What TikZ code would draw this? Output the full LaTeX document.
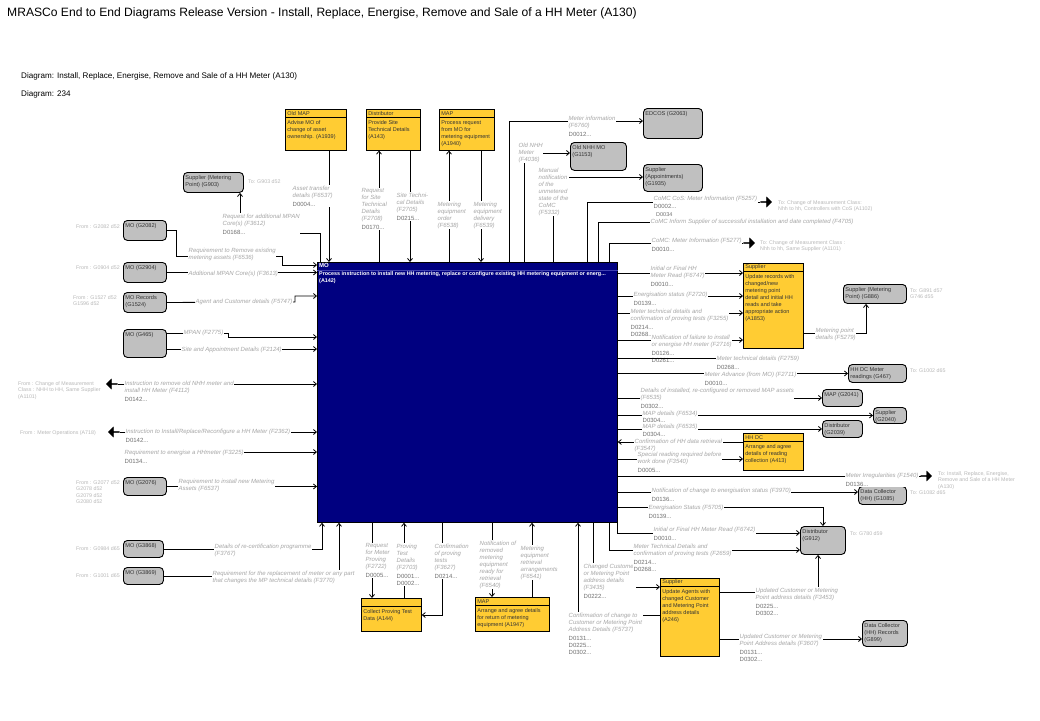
\documentclass[tikz,border=0pt]{standalone}
\usepackage{fontspec}
\setmainfont{Liberation Sans}
\usepackage{tikz}
\usetikzlibrary{arrows.meta, positioning, shapes.arrows}
\definecolor{mofill}{HTML}{000080}
\definecolor{mosep}{HTML}{4040B0}
\definecolor{actfill}{HTML}{FFCC33}
\definecolor{extfill}{HTML}{C0C0C0}
\definecolor{boxtext}{HTML}{333333}
\definecolor{lblgray}{HTML}{A6A6A6}
\definecolor{refgray}{HTML}{707070}
\definecolor{offgray}{HTML}{B8B8B8}
\newcommand{\dno}[1]{{\upshape\color{refgray}#1...}}
\newcommand{\inbox}[3]{\parbox[t][#2][t]{#1}{\raggedright #3}}
\tikzset{
  extbox/.style = {rectangle, rounded corners=4pt, draw=black, fill=extfill,
                   line width=0.9pt, anchor=north west, inner xsep=2pt, inner ysep=3pt,
                   font=\fontsize{5.6}{7}\selectfont, text=boxtext},
  acthead/.style= {rectangle, draw=black, fill=actfill, line width=0.8pt,
                   anchor=north west, inner xsep=2pt, inner ysep=0pt,
                   minimum height=7.5pt, align=left,
                   font=\fontsize{5.5}{6}\selectfont, text=boxtext},
  actbody/.style= {rectangle, draw=black, fill=actfill, line width=0.8pt,
                   inner xsep=2pt, inner ysep=3pt,
                   font=\fontsize{5.5}{7}\selectfont, text=boxtext},
  mobox/.style  = {rectangle, draw=black, fill=mofill, line width=0.8pt,
                   anchor=north west, minimum width=300pt, minimum height=260pt,
                   inner sep=0pt},
  mohead/.style = {anchor=north west, inner xsep=2pt, inner ysep=1pt,
                   font=\fontsize{6}{7}\selectfont\bfseries, text=white},
  motext/.style = {anchor=north west, inner xsep=2pt, inner ysep=1pt, align=left,
                   font=\fontsize{5.4}{7}\selectfont\bfseries, text=white},
  lbl/.style    = {anchor=north west, inner sep=0.5pt, fill=white, align=left,
                   font=\fontsize{6}{7}\selectfont\itshape, text=lblgray},
  offtxt/.style = {anchor=north west, inner sep=0pt, align=left,
                   font=\fontsize{5.3}{6.5}\selectfont, text=offgray},
  offarr/.style = {single arrow, fill=black, draw=black, minimum height=11pt,
                   minimum width=10pt, single arrow head extend=2.5pt, inner sep=0pt},
  flow/.style   = {-{Straight Barb[length=3pt, width=5pt]}, line width=0.8pt},
  link/.style   = {line width=0.8pt},
}

\begin{document}
\begin{tikzpicture}[x=1pt, y=-1pt]
	\fill[white] (0,0) rectangle (1040,720);
	\useasboundingbox (0,0) rectangle (1040,720);

	\node[anchor=west, inner sep=0pt, font=\fontsize{12.1}{14}\selectfont]
	(title) at (7,13)
	{MRASCo End to End Diagrams Release Version - Install, Replace, Energise, Remove and Sale of a HH Meter (A130)};
	\node[anchor=west, inner sep=0pt, font=\fontsize{8.1}{9}\selectfont]
	(dgname) at (21,76)
	{Diagram: Install, Replace, Energise, Remove and Sale of a HH Meter (A130)};
	\node[anchor=west, inner sep=0pt, font=\fontsize{8.1}{9}\selectfont]
	(dgnum) at (21,94) {Diagram: 234};

	\node[mobox] (mo) at (317,262) {};
	\draw[mosep] ([yshift=-8.5pt]mo.north west) -- ([yshift=-8.5pt]mo.north east);
	\node[mohead] (moh) at (mo.north west) {MO};
	\node[motext] (mot) at ([yshift=-8.5pt]mo.north west)
	{Process instruction to install new HH metering, replace or configure existing HH metering equipment or energ...\\(A142)};

	\node[acthead, text width=57pt] (a1939h) at (285,109) {Old MAP};
	\node[actbody, below=0pt of a1939h] (a1939)
	{\inbox{57pt}{26.5pt}{Advise MO of\\change of asset\\ownership. (A1939)}};
	\node[acthead, text width=50pt] (a143h) at (366,109) {Distributor};
	\node[actbody, below=0pt of a143h] (a143)
	{\inbox{50pt}{26.5pt}{Provide Site\\Technical Details\\(A143)}};
	\node[acthead, text width=51pt] (a1940h) at (439,109) {MAP};
	\node[actbody, below=0pt of a1940h] (a1940)
	{\inbox{51pt}{26.5pt}{Process request\\from MO for\\metering equipment\\(A1940)}};
	\node[acthead, text width=56pt] (a1853h) at (743,263) {Supplier};
	\node[actbody, below=0pt of a1853h] (a1853)
	{\inbox{56pt}{70.5pt}{Update records with\\changed/new\\metering point\\detail and initial HH\\reads and take\\appropriate action\\(A1853)}};
	\node[acthead, text width=56pt] (a413h) at (743,433) {HH DC};
	\node[actbody, below=0pt of a413h] (a413)
	{\inbox{56pt}{22.5pt}{Arrange and agree\\details of reading\\collection (A413)}};
	\node[acthead, text width=56pt] (a144h) at (361,598) {};
	\node[actbody, below=0pt of a144h] (a144)
	{\inbox{56pt}{18.5pt}{Collect Proving Test\\Data (A144)}};
	\node[acthead, text width=70pt] (a1947h) at (475,597) {MAP};
	\node[actbody, below=0pt of a1947h] (a1947)
	{\inbox{70pt}{19.5pt}{Arrange and agree details\\for return of metering\\equipment (A1947)}};
	\node[acthead, text width=55pt] (a246h) at (660,578) {Supplier};
	\node[actbody, below=0pt of a246h] (a246)
	{\inbox{55pt}{63.5pt}{Update Agents with\\changed Customer\\and Metering Point\\address details\\(A246)}};

	\node[extbox] (g2063) at (643,108) {\inbox{55pt}{24pt}{EDCOS (G2063)}};
	\node[extbox] (g1153) at (570,142) {\inbox{52pt}{22pt}{Old NHH MO\\(G1153)}};
	\node[extbox] (g1935) at (643,164) {\inbox{55pt}{21pt}{Supplier\\(Appointments)\\(G1935)}};
	\node[extbox] (g903) at (183,172) {\inbox{56pt}{14pt}{Supplier (Metering\\Point) (G903)}};
	\node[extbox] (g2082) at (123,220) {\inbox{39pt}{14pt}{MO (G2082)}};
	\node[extbox] (g2904) at (123,262) {\inbox{39pt}{14pt}{MO (G2904)}};
	\node[extbox] (g1524) at (123,292) {\inbox{39pt}{14pt}{MO Records\\(G1524)}};
	\node[extbox] (g465) at (123,329) {\inbox{39pt}{22pt}{MO (G465)}};
	\node[extbox] (g2076) at (123,477) {\inbox{39pt}{12pt}{MO (G2076)}};
	\node[extbox] (g3868) at (123,540) {\inbox{36pt}{11pt}{MO (G3868)}};
	\node[extbox] (g3869) at (123,567) {\inbox{36pt}{11pt}{MO (G3869)}};
	\node[extbox] (g886) at (843,284) {\inbox{59pt}{13pt}{Supplier (Metering\\Point) (G886)}};
	\node[extbox] (g467) at (848,364) {\inbox{54pt}{12pt}{HH DC Meter\\readings (G467)}};
	\node[extbox] (g2041) at (822,389) {\inbox{36pt}{11pt}{MAP (G2041)}};
	\node[extbox] (g2040) at (873,407) {\inbox{29pt}{10pt}{Supplier\\(G2040)}};
	\node[extbox] (g2039) at (822,420) {\inbox{36pt}{11pt}{Distributor\\(G2039)}};
	\node[extbox] (g1085) at (858,486) {\inbox{44pt}{12pt}{Data Collector\\(HH) (G1085)}};
	\node[extbox] (g912) at (800,526) {\inbox{41pt}{22pt}{Distributor\\(G912)}};
	\node[extbox] (g899) at (862,620) {\inbox{41pt}{20pt}{Data Collector\\(HH) Records\\(G899)}};

	\node[offarr] (arr5257) at (766,202) {};
	\node[offarr] (arr5277) at (749,243) {};
	\node[offarr] (arr1540) at (926,476) {};
	\node[offarr, shape border rotate=180] (arr4112) at (112,384) {};
	\node[offarr, shape border rotate=180] (arr2362) at (114,432) {};
	\coordinate (c4705) at (650,222);
	\coordinate (c2759) at (716,358);
	\coordinate (c3225) at (124,452);

	\draw[flow] (a1939.south -| 329,0) -- (mo.north -| 329,0);
	\draw[flow] (mo.north -| 379,0) -- (a143.south -| 379,0);
	\draw[flow] (a143.south -| 410,0) -- (mo.north -| 410,0);
	\draw[flow] (mo.north -| 449,0) -- (a1940.south -| 449,0);
	\draw[flow] (a1940.south -| 481,0) -- (mo.north -| 481,0);
	\draw[flow] (mo.north -| 509,0) |- (g2063.west |- 0,121);
	\draw[flow] (mo.north -| 524,0) |- (g1153.west |- 0,153);
	\draw[flow] (mo.north -| 553,0) |- (g1935.west |- 0,177);
	\draw[link] (mo.north -| 587,0) |- (arr5257.west);
	\draw[link] (mo.north -| 598,0) |- (c4705);
	\draw[link] (mo.north -| 609,0) |- (arr5277.west);
	\draw[flow] (mo.north -| 320,0) -- (320,233) -| (g903.south -| 240,0);

	\draw[flow] (g2082.east) -| (176,256) -- (282,256) |- (mo.west |- 0,265);
	\draw[flow] (g2904.east) -- (mo.west |- g2904.east);
	\draw[flow] (g1524.east) -- (295,302) |- (mo.west |- 0,296);
	\draw[flow] (g465.east |- 0,333) -- (228,333) |- (mo.west |- 0,337);
	\draw[flow] (g465.east |- 0,349) -- (mo.west |- 0,349);
	\draw[flow] (arr4112.east) -- (mo.west |- arr4112.east);
	\draw[flow] (arr2362.east) -- (mo.west |- arr2362.east);
	\draw[flow] (c3225) -- (mo.west |- c3225);
	\draw[flow] (g2076.east) -- (mo.west |- g2076.east);
	\draw[flow] (g3868.east) -| (mo.south -| 322,0);
	\draw[flow] (g3869.east) -| (mo.south -| 339,0);

	\draw[flow] (mo.south -| 372,0) -- (a144h.north -| 372,0);
	\draw[flow] (a144h.north -| 404,0) -- (mo.south -| 404,0);
	\draw[flow] (mo.south -| 442,0) |- (a144.east |- 0,615);
	\draw[flow] (mo.south -| 492,0) -- (a1947h.north -| 492,0);
	\draw[flow] (a1947h.north -| 532,0) -- (mo.south -| 532,0);
	\draw[flow] (a246.west |- 0,615) -| (mo.south -| 578,0);
	\draw[flow] (mo.south -| 593,0) |- (a246.west |- 0,587);
	\draw[flow] (mo.south -| 609,0) |- (g912.west |- 0,550);
	\draw[flow] (mo.south east) |- (g912.west |- 0,533);

	\draw[flow] (mo.east |- 0,273) -- (a1853.west |- 0,273);
	\draw[flow] (mo.east |- 0,296) -- (a1853.west |- 0,296);
	\draw[flow] (mo.east |- 0,313) -- (a1853.west |- 0,313);
	\draw[flow] (mo.east |- 0,340) -- (a1853.west |- 0,340);
	\draw[flow] (a1853.east |- 0,333) -| (g886.south -| 866,0);
	\draw[flow] (mo.east |- g467.west) -- (g467.west);
	\draw[flow] (mo.east |- g2041.west) -- (g2041.west);
	\draw[flow] (mo.east |- g2040.west) -- (g2040.west);
	\draw[flow] (mo.east |- g2039.west) -- (g2039.west);
	\draw[flow] (a413.west |- 0,442) -- (mo.east |- 0,442);
	\draw[flow] (mo.east |- 0,459) -- (a413.west |- 0,459);
	\draw[link] (mo.east |- arr1540.west) -- (arr1540.west);
	\draw[flow] (mo.east |- 0,492) -- (g1085.west |- 0,492);
	\draw[flow] (mo.east |- 0,507) -| (g912.north);
	\draw[flow] (a246.east |- 0,592) -| (g912.south -| 818,0);
	\draw[flow] (a246.east |- 0,639) -- (g899.west |- 0,639);

	\node[lbl] (lf6537) at (292,185) {Asset transfer\\details (F6537)\\[2pt]\dno{D0004}};
	\node[lbl] (lf2708) at (361,188) {Request\\for Site\\Technical\\Details\\(F2708)\\[2pt]\dno{D0170}};
	\node[lbl] (lf2705) at (396,192) {Site Techni-\\cal Details\\(F2705)\\[2pt]\dno{D0215}};
	\node[lbl] (lf6538) at (437,201) {Metering\\equipment\\order\\(F6538)};
	\node[lbl] (lf6539) at (473,201) {Metering\\equipment\\delivery\\(F6539)};
	\node[lbl] (lf6760) at (568,115) {Meter information\\(F6760)\\[2pt]\dno{D0012}};
	\node[lbl] (lf4036) at (518,142) {Old NHH\\Meter\\(F4036)};
	\node[lbl] (lf5332) at (538,167) {Manual\\notification\\of the\\unmetered\\state of the\\CoMC\\(F5332)};
	\node[lbl] (lf5257) at (653,195) {CoMC CoS: Meter Information (F5257)\\[1pt]\dno{D0002}};
	\node[lbl] (lf4705) at (650,218.5) {CoMC Inform Supplier of successful installation and date completed (F4705)};
	\node[anchor=north west, inner sep=0pt, font=\fontsize{5.5}{6}\selectfont, text=refgray]
	(d4705) at (656,212.5) {D0034};
	\node[lbl] (lf5277) at (651,237) {CoMC: Meter Information (F5277)\\[2pt]\dno{D0010}};

	\node[lbl] (lf3612) at (222,213) {Request for additional MPAN\\Core(s) (F3612)\\[2pt]\dno{D0168}};
	\node[lbl] (lf6536) at (188,247) {Requirement to Remove existing\\metering assets (F6536)};
	\node[lbl] (lf3613) at (188,270) {Additional MPAN Core(s) (F3613)};
	\node[lbl] (lf5747) at (195,298) {Agent and Customer details (F5747)};
	\node[lbl] (lf2775) at (183,329) {MPAN (F2775)};
	\node[lbl] (lf2124) at (181,346) {Site and Appointment Details (F2124)};
	\node[lbl] (lf4112) at (124,380) {Instruction to remove old NHH meter and\\install HH Meter (F4112)\\[2pt]\dno{D0142}};
	\node[lbl] (lf2362) at (125,428) {Instruction to Install/Replace/Reconfigure a HH Meter (F2362)\\[2pt]\dno{D0142}};
	\node[lbl] (lf3225) at (124,449) {Requirement to energise a HHmeter (F3225)\\[2pt]\dno{D0134}};
	\node[lbl] (lf6537b) at (178,478) {Requirement to install new Metering\\Assets (F6537)};
	\node[lbl] (lf3767) at (214,543) {Details of re-certification programme\\(F3767)};
	\node[lbl] (lf3770) at (212,570) {Requirement for the replacement of meter or any part\\that changes the MP technical details (F3770)};

	\node[lbl] (lf2722) at (365,543) {Request\\for Meter\\Proving\\(F2722)\\[2pt]\dno{D0005}};
	\node[lbl] (lf2703) at (396,543) {Proving\\Test\\Details\\(F2703)\\[2pt]\dno{D0001}\\\dno{D0002}};
	\node[lbl] (lf3627) at (434,543) {Confirmation\\of proving\\tests\\(F3627)\\[2pt]\dno{D0214}};
	\node[lbl] (lf6540) at (479,540) {Notification of\\removed\\metering\\equipment\\ready for\\retrieval\\(F6540)};
	\node[lbl] (lf6541) at (520,545) {Metering\\equipment\\retrieval\\arrangements\\(F6541)};
	\node[lbl] (lf5737) at (568,612) {Confirmation of change to\\Customer or Metering Point\\Address Details (F5737)\\[2pt]\dno{D0131}\\\dno{D0225}\\\dno{D0302}};
	\node[lbl] (lf3435) at (583,563) {Changed Customer\\or Metering Point\\address details\\(F3435)\\[2pt]\dno{D0222}};
	\node[lbl] (lf2659) at (633,543) {Meter Technical Details and\\confirmation of proving tests (F2659)\\[2pt]\dno{D0214}\\\dno{D0268}};
	\node[lbl] (lf6742) at (653,526) {Initial or Final HH Meter Read (F6742)\\[2pt]\dno{D0010}};

	\node[lbl] (lf6747) at (650,265) {Initial or Final HH\\Meter Read (F6747)\\[2pt]\dno{D0010}};
	\node[lbl] (lf2720) at (633,291) {Energisation status (F2720)\\[2pt]\dno{D0139}};
	\node[lbl] (lf3255) at (630,308) {Meter technical details and\\confirmation of proving tests (F3255)\\[2pt]\dno{D0214}\\\dno{D0268}};
	\node[lbl] (lf2716) at (651,334) {Notification of failure to install\\or energise HH meter (F2716)\\[2pt]\dno{D0126}\\\dno{D0261}};
	\node[lbl] (lf5279) at (815,327) {Metering point\\details (F5279)};
	\node[lbl] (lf2759) at (716,355) {Meter technical details (F2759)\\[2pt]\dno{D0268}};
	\node[lbl] (lf2711) at (704,371) {Meter Advance (from MO) (F2711)\\[2pt]\dno{D0010}};
	\node[lbl] (lf6535) at (640,387) {Details of installed, re-configured or removed MAP assets\\(F6535)\\[2pt]\dno{D0302}};
	\node[lbl] (lf6534) at (642,410) {MAP details (F6534)\\\dno{D0304}};
	\node[lbl] (lf6535b) at (642,423) {MAP details (F6535)\\[1pt]\dno{D0304}};
	\node[lbl] (lf3547) at (634,438) {Confirmation of HH data retrieval\\(F3547)};
	\node[lbl] (lf3540) at (637,451) {Special reading required before\\work done (F3540)\\[2pt]\dno{D0005}};
	\node[lbl] (lf1540) at (845,472) {Meter Irregularities (F1540)\\[2pt]\dno{D0136}};
	\node[lbl] (lf3970) at (651,487) {Notification of change to energisation status (F3970)\\[2pt]\dno{D0136}};
	\node[lbl] (lf5705) at (648,504) {Energisation Status (F5705)\\[2pt]\dno{D0139}};
	\node[lbl] (lf3453) at (755,587) {Updated Customer or Metering\\Point address details (F3453)\\[2pt]\dno{D0225}\\\dno{D0302}};
	\node[lbl] (lf3607) at (739,633) {Updated Customer or Metering\\Point Address details (F3607)\\[2pt]\dno{D0131}\\\dno{D0302}};
	\draw[link] (mo.east |- c2759) -- (c2759);

	\node[offtxt] (t903) at (248,179) {To: G903 d52};
	\node[offtxt] (t5257) at (778,200) {To: Change of Measurement Class:\\Nhh to hh, Controllers with CoS (A1102)};
	\node[offtxt] (t5277) at (760,240) {To: Change of Measurement Class :\\Nhh to hh, Same Supplier (A1101)};
	\node[offtxt] (t886) at (910,288) {To: G891 d57\\G746 d55};
	\node[offtxt] (t467) at (910,368) {To: G1002 d65};
	\node[offtxt] (t1540) at (938,471) {To: Install, Replace, Energise,\\Remove and Sale of a HH Meter\\(A130)};
	\node[offtxt] (t1085) at (910,490) {To: G1082 d65};
	\node[offtxt] (t912) at (850,531) {To: G780 d59};
	\node[offtxt] (f2082) at (76,224) {From : G2082 d52};
	\node[offtxt] (f2904) at (76,265) {From : G0904 d52};
	\node[offtxt] (f1524) at (73,295) {From : G1527 d52\\G1596 d52};
	\node[offtxt] (f4112) at (18,381) {From : Change of Measurement\\Class : NHH to HH, Same Supplier\\(A1101)};
	\node[offtxt] (f2362) at (20,430) {From : Meter Operations (A718)};
	\node[offtxt] (f2076) at (76,480) {From : G2077 d52\\G2078 d52\\G2079 d52\\G2080 d52};
	\node[offtxt] (f3868) at (76,546) {From : G0984 d65};
	\node[offtxt] (f3869) at (76,573) {From : G1001 d65};
\end{tikzpicture}
\end{document}
